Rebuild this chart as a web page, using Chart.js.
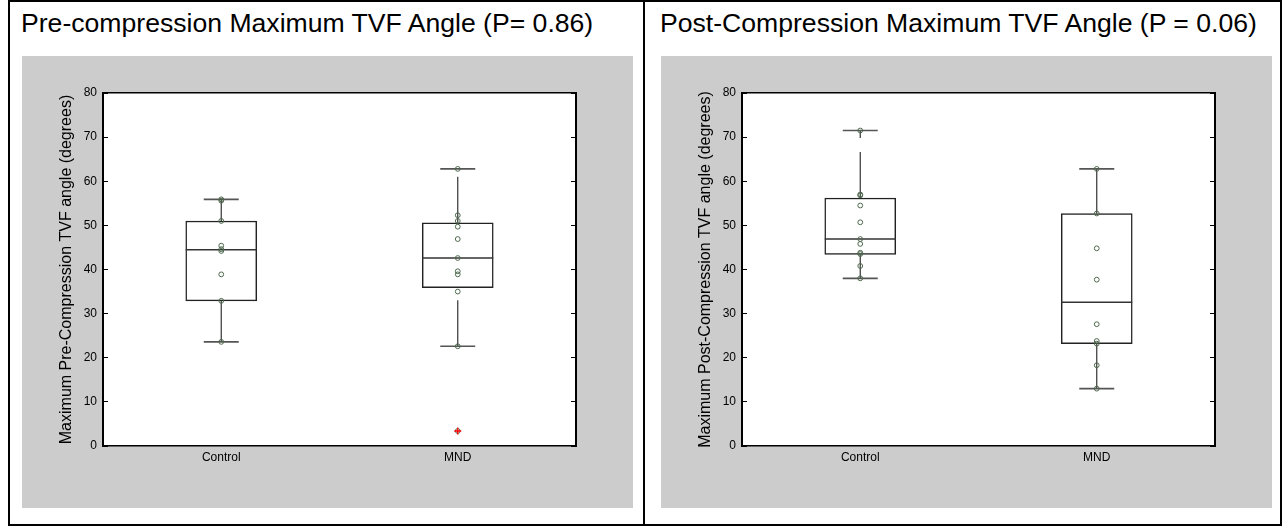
<!DOCTYPE html>
<html>
<head>
<meta charset="utf-8">
<script src="https://cdn.jsdelivr.net/npm/chart.js@4.4.1/dist/chart.umd.min.js"></script>
<style>
  html, body { margin: 0; padding: 0; background: #fff; }
  #page { position: relative; width: 1283px; height: 527px; overflow: hidden; background: #fff;
          font-family: "Liberation Sans", Arial, sans-serif; }
  .rule { position: absolute; background: #000; }
  .panel-title { position: absolute; top: 10px; font-size: 26.6px; line-height: 26.6px; white-space: nowrap; color: #000; }
  .panel { position: absolute; top: 56px; width: 611px; height: 452px; background: #cccccc; }
  canvas { display: block; }
</style>
</head>
<body>
<div id="page">
  <div class="rule" style="left:8px; top:0; width:1274px; height:2px"></div>
  <div class="rule" style="left:8px; top:524px; width:1274px; height:2px"></div>
  <div class="rule" style="left:8px; top:0; width:2px; height:526px"></div>
  <div class="rule" style="left:643px; top:0; width:2px; height:526px"></div>
  <div class="rule" style="left:1280px; top:0; width:2px; height:526px"></div>

  <div class="panel-title" style="left:21px">Pre-compression Maximum TVF Angle (P= 0.86)</div>
  <div class="panel-title" style="left:660px">Post-Compression Maximum TVF Angle (P = 0.06)</div>

  <div class="panel" style="left:22px"><canvas id="pre" width="611" height="452"></canvas></div>
  <div class="panel" style="left:661px"><canvas id="post" width="611" height="452"></canvas></div>
</div>
<script>
// Groups and axis range
const groups = ['Control', 'MND'];
const yMin = 0, yMax = 80, yStep = 10;

// Pre-compression maximum TVF angle (degrees)
const preLowWhisker  = [23.6, 22.6];
const preQ1          = [32.9, 35.9];
const preMedian      = [44.5, 42.6];
const preQ3          = [51.0, 50.6];
const preHighWhisker = [55.9, 62.8];
const preControlPoints = [55.9, 55.6, 51.0, 45.4, 44.6, 44.2, 38.9, 32.9, 23.6];
const preMndPoints     = [62.8, 52.3, 51.0, 49.7, 46.9, 42.6, 39.6, 38.9, 35.0, 22.6, 3.4];
const preOutliers      = [null, 3.4];

// Post-compression maximum TVF angle (degrees)
const postLowWhisker  = [38.0, 13.0];
const postQ1          = [43.4, 23.2];
const postMedian      = [46.9, 32.6];
const postQ3          = [56.2, 52.7];
const postHighWhisker = [71.5, 62.8];
const postControlPoints = [71.5, 57.0, 56.8, 54.5, 50.7, 46.9, 45.8, 43.8, 43.5, 40.8, 38.0];
const postMndPoints     = [62.8, 52.7, 44.8, 37.7, 27.6, 23.8, 23.2, 18.3, 13.0];
const postOutliers      = [null, null];

const FONT = "'Liberation Sans', Arial, sans-serif";
Chart.defaults.font.family = FONT;
Chart.defaults.color = '#000';

// White plotting area on the grey figure background
const plotBackground = {
  id: 'plotBackground',
  beforeDraw(chart) {
    const { ctx, chartArea: a } = chart;
    ctx.save();
    ctx.fillStyle = '#ffffff';
    ctx.fillRect(a.left, a.top, a.right - a.left, a.bottom - a.top);
    ctx.restore();
  }
};

function whisker(group, from, to) {
  return {
    type: 'line',
    data: [{ x: group, y: from }, { x: group, y: to }],
    borderColor: '#333333',
    borderWidth: 1.2,
    borderDash: [46, 14],
    pointRadius: 0,
    order: 5
  };
}

function boxplotDatasets(lo, q1, med, q3, hi, pointsByGroup, outliers) {
  const ds = [];
  // boxes (interquartile range)
  ds.push({
    type: 'bar',
    data: groups.map((g, i) => [q1[i], q3[i]]),
    backgroundColor: '#ffffff',
    borderColor: '#222222',
    borderWidth: 1.5,
    borderSkipped: false,
    barThickness: 71,
    grouped: false,
    order: 6
  });
  // whisker stems
  groups.forEach((g, i) => {
    ds.push(whisker(g, lo[i], q1[i]));
    ds.push(whisker(g, q3[i], hi[i]));
  });
  // whisker caps
  ds.push({
    type: 'line', showLine: false,
    data: groups.map((g, i) => ({ x: g, y: lo[i] })).concat(groups.map((g, i) => ({ x: g, y: hi[i] }))),
    pointStyle: 'line', pointRadius: 17.5, pointBorderColor: '#555555', pointBorderWidth: 1.6,
    order: 4
  });
  // medians
  ds.push({
    type: 'line', showLine: false,
    data: groups.map((g, i) => ({ x: g, y: med[i] })),
    pointStyle: 'line', pointRadius: 35.5, pointBorderColor: '#333333', pointBorderWidth: 1.5,
    order: 3
  });
  // individual observations
  ds.push({
    type: 'line', showLine: false,
    data: groups.flatMap((g, i) => pointsByGroup[i].map(v => ({ x: g, y: v }))),
    pointStyle: 'circle', pointRadius: 2.4,
    pointBorderColor: '#4f6a4f', pointBackgroundColor: 'rgba(0,0,0,0)', pointBorderWidth: 1,
    order: 1
  });
  // outliers
  const out = [];
  groups.forEach((g, i) => { if (outliers[i] !== null) out.push({ x: g, y: outliers[i] }); });
  ds.push({
    type: 'line', showLine: false,
    data: out,
    pointStyle: 'cross', pointRadius: 3.5, pointBorderColor: '#ff0000', pointBorderWidth: 1.3,
    order: 0
  });
  return ds;
}

function insideTicks() {
  return { drawOnChartArea: false, drawTicks: true, tickLength: -5, tickColor: '#000', tickWidth: 1 };
}

function makeChart(id, yTitle, datasets) {
  return new Chart(document.getElementById(id), {
    type: 'bar',
    data: { labels: groups, datasets },
    plugins: [plotBackground],
    options: {
      responsive: false,
      animation: false,
      events: [],
      layout: { padding: 0 },
      plugins: { legend: { display: false }, tooltip: { enabled: false }, title: { display: false } },
      scales: {
        x: {
          type: 'category', position: 'bottom', offset: true,
          grid: { display: false, drawTicks: false },
          border: { display: true, color: '#000', width: 1.5 },
          ticks: { color: '#000', font: { size: 12 }, padding: 4 },
          afterFit(s) { s.height = 62; }
        },
        xTop: {
          type: 'category', position: 'top', offset: true,
          grid: { display: false, drawTicks: false },
          border: { display: true, color: '#000', width: 1.5 },
          ticks: { display: false },
          afterFit(s) { s.height = 33; }
        },
        y: {
          type: 'linear', position: 'left', min: yMin, max: yMax,
          ticks: { stepSize: yStep, color: '#000', font: { size: 12 }, padding: 11 },
          grid: insideTicks(),
          border: { color: '#000', width: 2 },
          title: { display: true, text: yTitle, color: '#000', font: { size: 16 }, padding: { top: 35, bottom: 0 } },
          afterFit(s) { s.width = 81; }
        },
        yRight: {
          type: 'linear', position: 'right', min: yMin, max: yMax,
          ticks: { display: false, stepSize: yStep },
          grid: insideTicks(),
          border: { color: '#000', width: 2 },
          afterFit(s) { s.width = 57; }
        }
      }
    }
  });
}

makeChart('pre', 'Maximum Pre-Compression TVF angle (degrees)',
  boxplotDatasets(preLowWhisker, preQ1, preMedian, preQ3, preHighWhisker,
                  [preControlPoints, preMndPoints], preOutliers));

makeChart('post', 'Maximum Post-Compression TVF angle (degrees)',
  boxplotDatasets(postLowWhisker, postQ1, postMedian, postQ3, postHighWhisker,
                  [postControlPoints, postMndPoints], postOutliers));
</script>
</body>
</html>
